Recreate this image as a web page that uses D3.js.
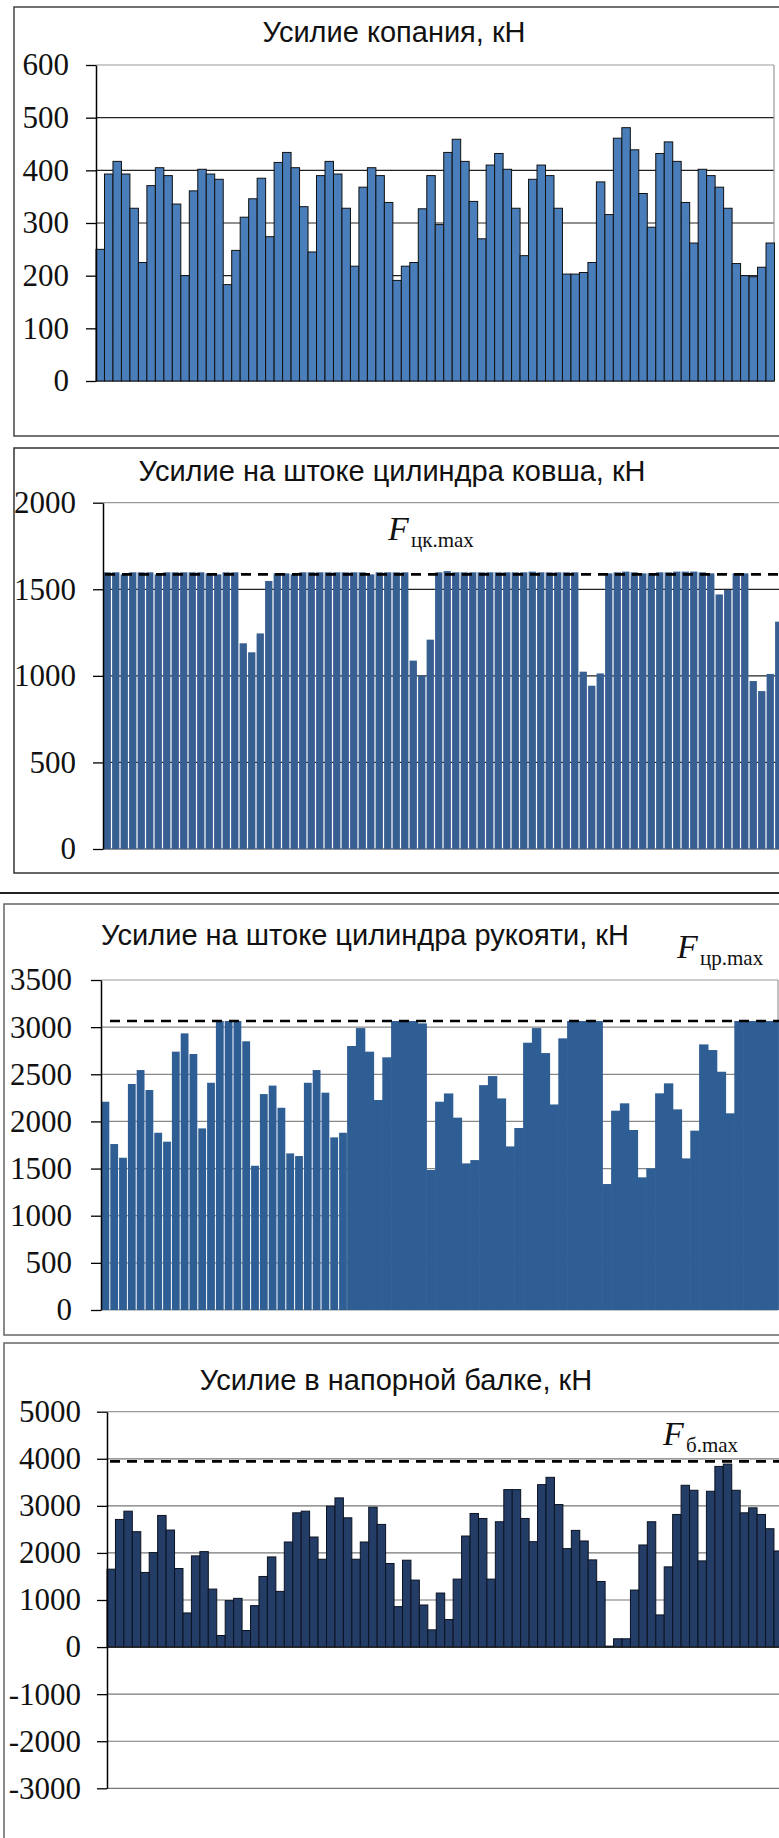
<!DOCTYPE html>
<html>
<head>
<meta charset="utf-8">
<script src="https://cdn.jsdelivr.net/npm/d3@7"></script>
<style>
  body { margin: 0; background: #fff; }
  svg { display: block; }
</style>
</head>
<body>
<svg id="chart" width="779" height="1838"></svg>
<script>
// values, one bar per digging position
const diggingForce = [250,393,417,393,328,225,371,405,390,336, 200,361,402,393,383,183,248,311,346,385,
  274,415,434,405,331,245,390,417,393,328, 218,368,405,390,339,191,218,225,327,390,
  297,434,459,417,341,270,410,432,402,328, 238,383,410,390,328,203,203,206,225,378,
  316,461,481,439,356,292,432,454,417,339, 262,402,390,368,328,223,200,198,216,262];

const bucketForce = [1598,1598,1586,1598,1598,1598,1586,1598,1598,1598, 1598,1598,1592,1586,1598,1598,1188,1136,1245,1548,
  1592,1592,1586,1598,1598,1598,1598,1598,1598,1598, 1598,1586,1598,1598,1598,1598,1088,1001,1209,1598,
  1605,1598,1598,1598,1598,1598,1598,1598,1598,1598, 1602,1598,1598,1598,1598,1598,1024,943,1014,1592,
  1598,1602,1598,1592,1592,1598,1598,1602,1602,1602, 1598,1592,1470,1496,1592,1592,970,912,1011,1313];

const armForce = [2209,1760,1615,2397,2545,2333,1880,1785,2740,2934, 2715,1926,2410,3065,3065,3065,2850,1530,2290,2380,
  2145,1661,1633,2410,2545,2305,1831,1880,2800,2990, 2740,2227,2680,3065,3065,3065,3040,1485,2209,2297,
  2040,1555,1590,2385,2481,2244,1735,1930,2835,2990, 2725,2180,2881,3065,3065,3065,3065,1336,2114,2192,
  1909,1407,1502,2298,2404,2128,1608,1902,2817,2757, 2527,2086,3065,3065,3065,3065,3065];

const boomForce = [1655,2711,2887,2451,1585,2007,2796,2486,1669,725, 1937,2028,1232,246,986,1035,352,880,1500,1915,
  1183,2232,2852,2887,2338,1866,2993,3169,2746,1866, 2232,2972,2606,1775,859,1845,1423,894,366,1148,
  585,1444,2359,2838,2732,1444,2662,3345,3345,2732, 2239,3451,3606,3028,2092,2479,2254,1852,1394,20,
  176,176,1211,2169,2662,683,1704,2817,3437,3331, 1831,3310,3838,3887,3331,2852,2958,2817,2514,2042];

const bucketMax = 1586;
const armMax = 3065;
const boomMax = 3944;
const armSeparated = 28; // first bars of the arm chart are drawn with gaps

const ticksDigging = [0,100,200,300,400,500,600];
const ticksBucket = [0,500,1000,1500,2000];
const ticksArm = [0,500,1000,1500,2000,2500,3000,3500];
const ticksBoom = [-3000,-2000,-1000,0,1000,2000,3000,4000,5000];

const titles = [
  "Усилие копания, кН",
  "Усилие на штоке цилиндра ковша, кН",
  "Усилие на штоке цилиндра рукояти, кН",
  "Усилие в напорной балке, кН"
];

const svg = d3.select("#chart");

// frames round the four pictures
const frame = (x, y, w, h, color) => svg.append("rect")
  .attr("x", x).attr("y", y).attr("width", w).attr("height", h)
  .attr("fill", "none").attr("stroke", color).attr("stroke-width", 1.5);

frame(14, 7, 780, 429, "#444");
frame(14, 448, 780, 425, "#333");
svg.append("line").attr("x1", 0).attr("x2", 779).attr("y1", 893).attr("y2", 893)
  .attr("stroke", "#222").attr("stroke-width", 2);
frame(4, 904, 790, 431, "#666");
frame(4, 1343, 790, 520, "#666");

const drawPanel = (p) => {
  const x = d3.scaleBand()
    .domain(d3.range(p.values.length))
    .range([p.x0, p.x1])
    .padding(0);

  const y = d3.scaleLinear()
    .domain(p.domain)
    .range([p.bottom, p.top]);

  const g = svg.append("g");

  // title
  g.append("text")
    .attr("x", p.titleX).attr("y", p.titleY)
    .attr("text-anchor", "middle")
    .style("font-family", "'Liberation Sans', Arial, sans-serif")
    .style("font-size", "29px")
    .attr("fill", "#111")
    .text(p.title);

  // grid
  g.selectAll(".grid")
    .data(p.ticks)
    .enter().append("line")
    .attr("x1", p.x0).attr("x2", p.gridEnd)
    .attr("y1", d => y(d)).attr("y2", d => y(d))
    .attr("stroke", d => d === p.domain[1] ? "#999" : p.gridColor)
    .attr("stroke-width", 1.2);

  if (p.rightBorder) {
    g.append("line")
      .attr("x1", p.rightBorder).attr("x2", p.rightBorder)
      .attr("y1", y(p.domain[1])).attr("y2", y(p.domain[0]))
      .attr("stroke", "#999").attr("stroke-width", 1.2);
  }

  // bars
  g.selectAll(".bar")
    .data(p.values)
    .enter().append("rect")
    .attr("x", (d, i) => x(i) + p.inset(i))
    .attr("width", (d, i) => x.bandwidth() - 2 * p.inset(i))
    .attr("y", d => y(Math.max(0, d)))
    .attr("height", d => Math.abs(y(d) - y(0)))
    .attr("fill", p.fill)
    .attr("stroke", p.stroke || "none")
    .attr("stroke-width", p.stroke ? 1 : 0);

  if (p.zeroLine) {
    g.append("line")
      .attr("x1", p.x0).attr("x2", p.gridEnd)
      .attr("y1", y(0)).attr("y2", y(0))
      .attr("stroke", "#222").attr("stroke-width", 1.2);
  }

  // limit line and its label
  if (p.limit !== undefined) {
    g.append("line")
      .attr("x1", p.dashStart).attr("x2", 779)
      .attr("y1", y(p.limit)).attr("y2", y(p.limit))
      .attr("stroke", "#000").attr("stroke-width", 2.6)
      .attr("stroke-dasharray", "10,7");

    g.append("text")
      .attr("x", p.labelX).attr("y", p.labelY)
      .style("font-family", "'Liberation Serif', 'Times New Roman', serif")
      .style("font-style", "italic")
      .style("font-size", "34px")
      .attr("fill", "#111")
      .text("F");

    g.append("text")
      .attr("x", p.labelX + 23).attr("y", p.labelY + 7)
      .style("font-family", "'Liberation Serif', 'Times New Roman', serif")
      .style("font-size", "21px")
      .attr("fill", "#111")
      .text(p.sub);
  }

  // y axis
  const yAxis = d3.axisLeft(y)
    .tickValues(p.ticks)
    .tickFormat(d3.format("d"))
    .tickSize(10)
    .tickSizeOuter(0)
    .tickPadding(p.pad);

  const ax = g.append("g")
    .attr("transform", "translate(" + p.x0 + ",0)")
    .call(yAxis);

  ax.select(".domain").attr("stroke", "#000").attr("stroke-width", 1.5);
  ax.selectAll(".tick line").attr("stroke", "#000").attr("stroke-width", 1.3);
  ax.selectAll(".tick text")
    .style("font-family", "'Liberation Serif', 'Times New Roman', serif")
    .style("font-size", "31px")
    .attr("fill", "#111")
    .text(d => d < 0 ? "-" + Math.abs(d) : d);
};

drawPanel({
  title: titles[0], titleX: 394, titleY: 42,
  values: diggingForce, domain: [0, 600], ticks: ticksDigging,
  x0: 96, x1: 774.5, top: 65, bottom: 381, gridEnd: 774, rightBorder: 774,
  gridColor: "#222", pad: 17,
  fill: "#4a7ebb", stroke: "#111", inset: () => 0
});

drawPanel({
  title: titles[1], titleX: 392, titleY: 481,
  values: bucketForce, domain: [0, 2000], ticks: ticksBucket,
  x0: 103, x1: 783, top: 502.7, bottom: 849, gridEnd: 779,
  gridColor: "#222", pad: 17,
  fill: "#375f92", inset: () => 0.6,
  limit: bucketMax, dashStart: 105, labelX: 388, labelY: 540, sub: "цк.max"
});

drawPanel({
  title: titles[2], titleX: 365, titleY: 945,
  values: armForce, domain: [0, 3500], ticks: ticksArm,
  x0: 101, x1: 778.6, top: 980, bottom: 1310, gridEnd: 778, rightBorder: 778,
  gridColor: "#888", pad: 19,
  fill: "#2e5e93", inset: i => i < armSeparated ? 0.5 : -0.3,
  limit: armMax, dashStart: 110, labelX: 677, labelY: 958, sub: "цр.max"
});

drawPanel({
  title: titles[3], titleX: 396, titleY: 1390,
  values: boomForce, domain: [-3000, 5000], ticks: ticksBoom,
  x0: 107, x1: 782.4, top: 1411.7, bottom: 1788.3, gridEnd: 779,
  gridColor: "#777", pad: 16, zeroLine: true,
  fill: "#243d66", stroke: "#0b1322", inset: () => 0,
  limit: boomMax, dashStart: 110, labelX: 663, labelY: 1445, sub: "б.max"
});
</script>
</body>
</html>
